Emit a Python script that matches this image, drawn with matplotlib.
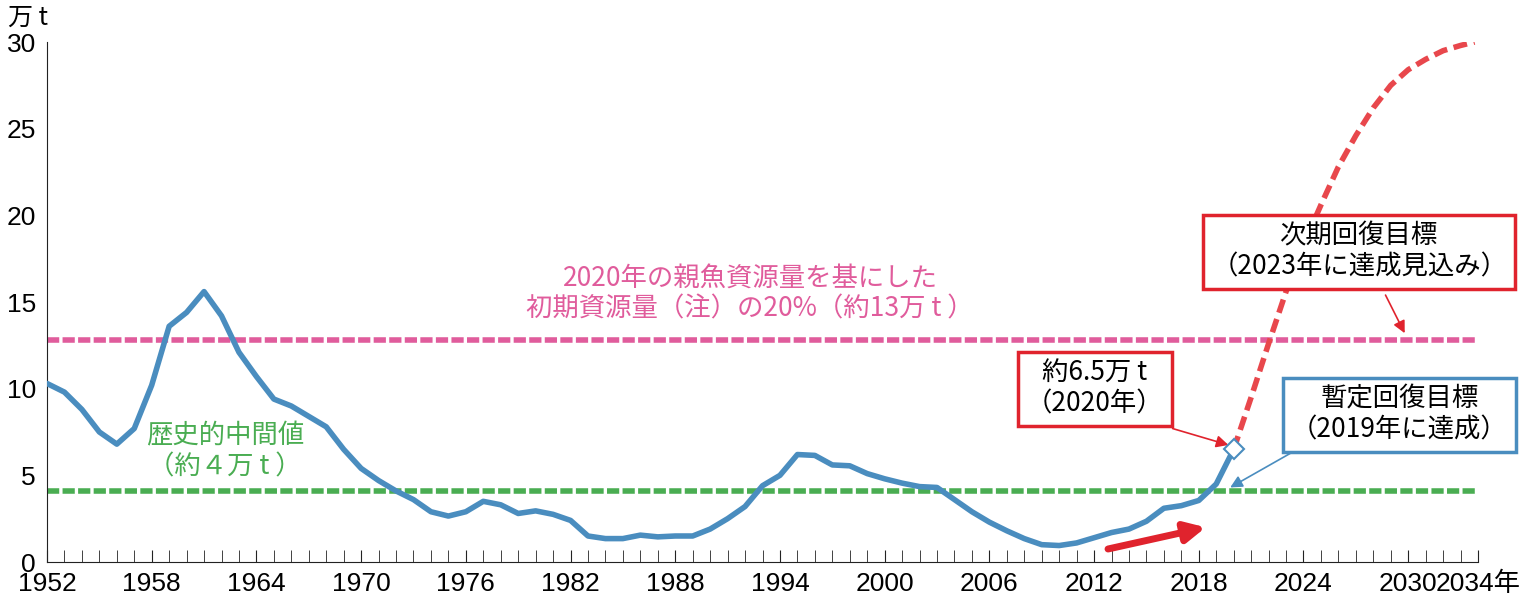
import matplotlib
matplotlib.use("Agg")
import matplotlib.pyplot as plt

plt.rcParams['font.family'] = ['Noto Sans CJK JP']

years = list(range(1952, 2021))
biomass = [10.3, 9.8, 8.8, 7.5, 6.8, 7.7, 10.2, 13.6, 14.4, 15.6, 14.2, 12.1, 10.7, 9.4,
           9.0, 8.4, 7.8, 6.5, 5.4, 4.7, 4.1, 3.6, 2.9, 2.65, 2.9, 3.5, 3.3, 2.8, 2.95,
           2.75, 2.4, 1.5, 1.35, 1.35, 1.55, 1.45, 1.5, 1.5, 1.9, 2.5, 3.2, 4.4, 5.0,
           6.2, 6.15, 5.6, 5.55, 5.1, 4.8, 4.55, 4.35, 4.3, 3.6, 2.9, 2.3, 1.8, 1.35,
           1.0, 0.95, 1.1, 1.4, 1.7, 1.9, 2.35, 3.1, 3.25, 3.55, 4.5, 6.5]
proj_years = list(range(2020, 2034)) + [2033.8]
proj_vals = [6.5, 9.5, 12.6, 15.6, 18.3, 20.6, 22.8, 24.6, 26.2, 27.5, 28.4, 29.0, 29.5, 29.8, 30.0]
target_initial = 12.8
target_hist = 4.1
xtick_years = [1952, 1958, 1964, 1970, 1976, 1982, 1988, 1994, 2000, 2006, 2012, 2018, 2024, 2030, 2034]
xtick_labels = [str(y) for y in xtick_years[:-1]] + ["2034年"]
yticks = [0, 5, 10, 15, 20, 25, 30]

BLUE = "#4a8dbf"; RED = "#e8474c"; PINK = "#e05c9c"; GREEN = "#4aad52"; BOXRED = "#e0232d"

fig = plt.figure(figsize=(15.3, 6.0), dpi=100)
ax = fig.add_axes([47/1530, 38/600, (1478-47)/1530, (562-42)/600])
ax.set_xlim(1952, 2034)
ax.set_ylim(0, 30)

ax.axhline(target_initial, color=PINK, lw=4, ls=(0, (2.2, 0.6)), zorder=2)
ax.axhline(target_hist, color=GREEN, lw=4, ls=(0, (2.2, 0.6)), zorder=2)
ax.plot(years, biomass, color=BLUE, lw=4, zorder=3, solid_capstyle='round')
ax.plot(proj_years, proj_vals, color=RED, lw=4, ls=(0, (2.5, 1.2)), zorder=3)
ax.plot([years[-1]], [biomass[-1]], marker='D', ms=10, mfc='white', mec=BLUE, mew=1.5, zorder=5)

for s in ['top', 'right']:
    ax.spines[s].set_visible(False)
ax.spines['left'].set_color('#222'); ax.spines['bottom'].set_color('#222')
ax.set_xticks(range(1952, 2035), minor=True)
ax.set_xticks(xtick_years)
ax.set_xticklabels(xtick_labels, fontsize=19, fontfamily=['Liberation Sans', 'Noto Sans CJK JP'])
ax.tick_params(axis='x', which='both', direction='in', length=9, color='#222', pad=7)
ax.set_yticks(yticks)
ax.set_yticklabels([str(v) for v in yticks], fontsize=19, fontfamily='Liberation Sans')
ax.tick_params(axis='y', length=0, pad=8)
fig.text(8/1530, 1-18/600, "万 t", fontsize=18, va='center', ha='left')

ax.text(1992.3, 15.5, "2020年の親魚資源量を基にした\n初期資源量（注）の20%（約13万 t ）", color=PINK,
        fontsize=19, ha='center', va='center', linespacing=1.2)
ax.text(1962.2, 6.4, "歴史的中間値\n（約４万 t ）", color=GREEN, fontsize=19, ha='center',
        va='center', linespacing=1.2)

ax.text(2027.2, 17.9, "次期回復目標\n（2023年に達成見込み）", fontsize=19, ha='center', va='center',
        linespacing=1.2, bbox=dict(boxstyle='square,pad=0.3', fc='white', ec=BOXRED, lw=2.5))
ax.text(2012.05, 10.0, "約6.5万 t\n（2020年）", fontsize=19, ha='center', va='center',
        linespacing=1.2, bbox=dict(boxstyle='square,pad=0.3', fc='white', ec=BOXRED, lw=2.5))
ax.text(2029.5, 8.5, "暫定回復目標\n（2019年に達成）", fontsize=19, ha='center', va='center',
        linespacing=1.2, bbox=dict(boxstyle='square,pad=0.3', fc='white', ec=BLUE, lw=2.5))

ax.annotate("", xy=(2029.8, 13.2), xytext=(2028.7, 15.4),
            arrowprops=dict(arrowstyle='-|>', color=BOXRED, lw=1.2, mutation_scale=18, shrinkA=0, shrinkB=0))
ax.annotate("", xy=(2019.7, 6.75), xytext=(2016.5, 7.7),
            arrowprops=dict(arrowstyle='-|>', color=BOXRED, lw=1.2, mutation_scale=18, shrinkA=0, shrinkB=0))
ax.annotate("", xy=(2019.8, 4.3), xytext=(2023.3, 6.3),
            arrowprops=dict(arrowstyle='-|>', color=BLUE, lw=1.2, mutation_scale=18, shrinkA=0, shrinkB=0))
ax.annotate("", xy=(2018.4, 2.0), xytext=(2012.8, 0.75),
            arrowprops=dict(arrowstyle='-|>', color=BOXRED, lw=5, mutation_scale=30, shrinkA=0, shrinkB=0))

fig.savefig("out.png", dpi=100)
